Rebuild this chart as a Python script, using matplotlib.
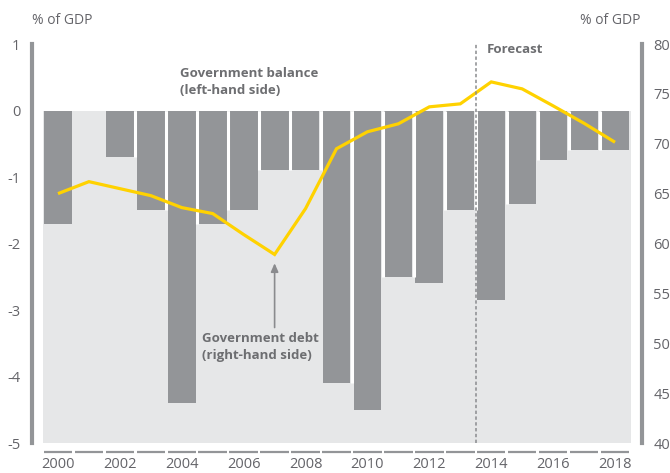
import matplotlib
matplotlib.use("Agg")
import matplotlib.pyplot as plt
import matplotlib.transforms as mtransforms

plt.rcParams['font.family'] = ['Open Sans', 'DejaVu Sans']

years = list(range(2000, 2019))
balance = [-1.7, 0.0, -0.7, -1.5, -4.4, -1.7, -1.5, -0.9, -0.9, -4.1,
           -4.5, -2.5, -2.6, -1.5, -2.85, -1.4, -0.75, -0.6, -0.6]
debt = [65.0, 66.2, 65.5, 64.8, 63.6, 63.0, 60.9, 58.9, 63.5, 69.5,
        71.2, 72.0, 73.7, 74.0, 76.2, 75.5, 73.8, 72.05, 70.15]
left_ticks = [1, 0, -1, -2, -3, -4, -5]
right_ticks = [80, 75, 70, 65, 60, 55, 50, 45, 40]
xtick_years = list(range(2000, 2019, 2))
forecast_start = 2013.5

BAR = '#939598'
BG = '#e6e7e8'
DEBT = '#ffd200'
TXT = '#6d6e71'
TICK = '#646469'

W, H = 670, 473
fig = plt.figure(figsize=(W / 100, H / 100), dpi=100)
ax = fig.add_axes([42.5 / W, 30 / H, 588 / W, 399 / H])
ax.set_facecolor('none')

ax.set_xlim(years[0] - 0.5, years[-1] + 0.5)
ax.set_ylim(-5, 1)

# shaded panel below the zero line
ax.axhspan(-5, 0, color=BG, zorder=0, lw=0)

# balance bars
ax.bar(years, balance, width=0.9, color=BAR, zorder=2, lw=0)
# white separators between neighbouring bars
for i in range(len(years) - 1):
    top = max(balance[i], balance[i + 1])
    if top < 0:
        ax.vlines(years[i] + 0.5, top, 0, color='white', lw=2.2, zorder=2.1)

# left axis as a thick grey bar, ticks as white notches
for s in ['top', 'bottom', 'right']:
    ax.spines[s].set_visible(False)
ax.spines['left'].set_position(('outward', 7.5))
ax.spines['left'].set_color(BAR)
ax.spines['left'].set_linewidth(3.0)
ax.set_yticks(left_ticks)
ax.set_yticklabels([str(v) for v in left_ticks])
ax.tick_params(axis='y', direction='inout', length=4, width=1.5, color='white',
               pad=6.5, labelsize=10.5, labelcolor=TICK)

ax.set_xticks(xtick_years)
ax.set_xticklabels([str(y) for y in xtick_years])
ax.tick_params(axis='x', length=0, pad=10, labelsize=10.5, labelcolor=TICK)

# dashed baseline below the panel, one dash per year
trans = mtransforms.blended_transform_factory(ax.transData, ax.transAxes)
for y in years:
    ax.plot([y - 0.46, y + 0.46], [-0.0226, -0.0226], color=BAR, lw=1.6,
            transform=trans, clip_on=False, solid_capstyle='butt')

# right axis for debt
ax2 = ax.twinx()
ax2.set_ylim(40, 80)
for s in ['top', 'bottom', 'left']:
    ax2.spines[s].set_visible(False)
ax2.spines['right'].set_position(('outward', 8))
ax2.spines['right'].set_color(BAR)
ax2.spines['right'].set_linewidth(3.0)
ax2.set_yticks(right_ticks)
ax2.tick_params(axis='y', direction='inout', length=4, width=1.5, color='white',
                pad=6.5, labelsize=10.5, labelcolor=TICK)

ax2.plot(years, debt, color=DEBT, lw=2.3, zorder=3, solid_capstyle='butt',
         solid_joinstyle='miter')

# forecast divider
ax2.axvline(forecast_start, color='#8a8b8e', lw=1.1, ls=(0, (2.2, 1.6)), zorder=4)
ax.text(2013.85, 0.91, 'Forecast', fontsize=9.5, fontweight='bold', color=TXT,
        ha='left', va='center')

ax.text(2003.94, 0.43, 'Government balance\n(left-hand side)', fontsize=9.5,
        fontweight='bold', color=TXT, ha='left', va='center', linespacing=1.35, zorder=5)

i07 = years.index(2007)
ax2.annotate('', xy=(2007, debt[i07] - 0.6), xytext=(2007, 51.3),
             arrowprops=dict(arrowstyle='-|>,head_length=0.5,head_width=0.22',
                             color='#8a8b8e', lw=1.2), zorder=5)
ax2.text(2004.64, 49.6, 'Government debt\n(right-hand side)', fontsize=9.5,
         fontweight='bold', color=TXT, ha='left', va='center', linespacing=1.35, zorder=5)

fig.text(32 / W, 1 - 20 / H, '% of GDP', fontsize=10, color=TICK, ha='left', va='center')
fig.text(641 / W, 1 - 20 / H, '% of GDP', fontsize=10, color=TICK, ha='right', va='center')

fig.savefig('out.png', dpi=100)
